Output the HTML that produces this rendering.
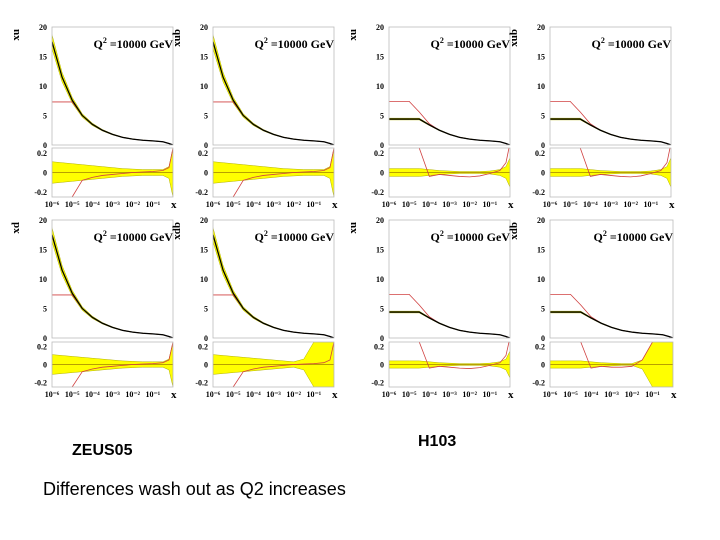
<!DOCTYPE html>
<html><head><meta charset="utf-8"><style>
body{margin:0;background:#fff;width:720px;height:540px;overflow:hidden;font-family:"Liberation Serif",serif}
svg{position:absolute;left:0;top:0}
.t{position:absolute;font-family:"Liberation Sans",sans-serif;color:#000}
</style></head><body>
<svg id="c" width="720" height="540"></svg>
<div class="t" style="left:72px;top:442px;font-size:16px;font-weight:bold">ZEUS05</div>
<div class="t" style="left:418px;top:433px;font-size:16px;font-weight:bold">H103</div>
<div class="t" style="left:43px;top:479px;font-size:18px">Differences wash out as Q2 increases</div>
<script>
// log10(x) grid
const logX=[-6,-5.5,-5,-4.5,-4,-3.5,-3,-2.5,-2,-1.5,-1,-0.5,-0.2,0];
// central values
const zeusMain=[17.5,11.5,7.6,5.0,3.5,2.5,1.8,1.3,1.0,0.8,0.7,0.55,0.25,0];
const h1Main=[4.4,4.4,4.4,4.4,3.4,2.5,1.8,1.3,1.0,0.8,0.7,0.55,0.25,0];
const redMain=[7.3,7.3,7.3,5.0,3.5,2.5,1.8,1.3,1.0,0.8,0.7,0.55,0.25,0];
const redMainH1=[7.4,7.4,7.4,5.6,3.6,2.5,1.8,1.3,1.0,0.8,0.7,0.55,0.25,0];
const zeusErr=[1.2,0.8,0.5,0.3,0.2,0.12,0.08,0.05,0.04,0.03,0.03,0.03,0.02,0];
const h1Err=[0.15,0.15,0.15,0.15,0.1,0.08,0.06,0.05,0.04,0.03,0.03,0.03,0.02,0];
// ratio band half-width
const zeusBandU=[0.11,0.1,0.09,0.08,0.07,0.06,0.05,0.04,0.035,0.03,0.03,0.03,0.06,0.25];
const zeusBandD=[0.11,0.1,0.09,0.08,0.07,0.06,0.05,0.04,0.035,0.03,0.03,0.03,0.06,0.25];
const h1BandU=[0.04,0.04,0.04,0.04,0.03,0.02,0.015,0.01,0.01,0.01,0.015,0.03,0.06,0.15];
const zeusBbBand=[0.11,0.1,0.09,0.08,0.07,0.06,0.05,0.04,0.03,0.06,0.25,0.25,0.25,0.25];
const h1BbBand=[0.04,0.04,0.04,0.04,0.03,0.02,0.015,0.01,0.01,0.05,0.25,0.25,0.25,0.25];
// ratio red curves
const zeusRed=[-0.5,-0.35,-0.25,-0.08,-0.05,-0.03,-0.02,-0.01,0,0.005,0.01,0.02,0.05,0.25];
const h1Red=[0.5,0.5,0.5,0.25,-0.04,-0.02,-0.03,-0.04,-0.045,-0.035,-0.01,0.02,0.1,0.3];
const h1RedB=[0.5,0.5,0.5,0.25,-0.04,-0.02,-0.03,-0.03,-0.02,0.05,0.25,0.5,0.5,0.5];
const mainTicks=[0,5,10,15,20];
const ratioTicks=[-0.2,0,0.2];
const xTickLabels=["10⁻⁶","10⁻⁵","10⁻⁴","10⁻³","10⁻²","10⁻¹"];
const NS="http://www.w3.org/2000/svg";
const svg=document.getElementById('c');
function el(t,a,p){const e=document.createElementNS(NS,t);for(const k in a)e.setAttribute(k,a[k]);(p||svg).appendChild(e);return e;}
const panels=[
 {x0:52,x1:173,t:27,mb:145,rt:148,rb:197,lab:"xu",main:zeusMain,err:zeusErr,red:redMain,band:zeusBandU,rred:zeusRed},
 {x0:213,x1:334,t:27,mb:145,rt:148,rb:197,lab:"xub",main:zeusMain,err:zeusErr,red:redMain,band:zeusBandD,rred:zeusRed},
 {x0:389,x1:510,t:27,mb:145,rt:148,rb:197,lab:"xu",main:h1Main,err:h1Err,red:redMainH1,band:h1BandU,rred:h1Red},
 {x0:550,x1:671,t:27,mb:145,rt:148,rb:197,lab:"xub",main:h1Main,err:h1Err,red:redMainH1,band:h1BandU,rred:h1Red},
 {x0:52,x1:173,t:220,mb:338,rt:342,rb:387,lab:"xd",main:zeusMain,err:zeusErr,red:redMain,band:zeusBandU,rred:zeusRed},
 {x0:213,x1:334,t:220,mb:338,rt:342,rb:387,lab:"xdb",main:zeusMain,err:zeusErr,red:redMain,band:zeusBbBand,rred:zeusRed},
 {x0:389,x1:510,t:220,mb:338,rt:342,rb:387,lab:"xu",main:h1Main,err:h1Err,red:redMainH1,band:h1BandU,rred:h1Red},
 {x0:550,x1:673,t:220,mb:338,rt:342,rb:387,lab:"xdb",main:h1Main,err:h1Err,red:redMainH1,band:h1BbBand,rred:h1RedB},
];
panels.forEach((p,i)=>{
 const g=el('g',{});
 
 
 const cp='cp'+i;
 const defs=el('defs',{},g);
 const c1=el('clipPath',{id:cp+'m'},defs);el('rect',{x:p.x0,y:p.t,width:p.x1-p.x0,height:p.mb-p.t},c1);
 const c2=el('clipPath',{id:cp+'r'},defs);el('rect',{x:p.x0,y:p.rt,width:p.x1-p.x0,height:p.rb-p.rt},c2);
 const X=l=>p.x0+(l+6)/6*(p.x1-p.x0);
 const Y=v=>p.mb-v/20*(p.mb-p.t);
 const rc=(p.rt+p.rb)/2, rs=(p.rb-p.rt)/2/0.25;
 const R=v=>rc-v*rs;
 // main band
 const gm=el('g',{'clip-path':'url(#'+cp+'m)'},g);
 let up=logX.map((l,k)=>X(l)+','+Y(p.main[k]+p.err[k])).join(' ');
 let dn=logX.map((l,k)=>X(l)+','+Y(p.main[k]-p.err[k])).reverse().join(' ');
 const bnd=el('polygon',{points:up+' '+dn,fill:'#ffff00',stroke:'#b0b000','stroke-width':0.5},gm);
 
 
 const rl=el('polyline',{points:logX.map((l,k)=>X(l)+','+Y(p.red[k])).join(' '),fill:'none',stroke:'#d04040','stroke-width':0.8},gm);
 
 
 const bl=el('polyline',{points:logX.map((l,k)=>X(l)+','+Y(p.main[k])).join(' '),fill:'none',stroke:'#000','stroke-width':1.3,'stroke-dasharray':i%4<2?'none':'none'},gm);
 
 
 // ratio
 const gr=el('g',{'clip-path':'url(#'+cp+'r)'},g);
 up=logX.map((l,k)=>X(l)+','+R(p.band[k])).join(' ');
 dn=logX.map((l,k)=>X(l)+','+R(-p.band[k])).reverse().join(' ');
 const rb=el('polygon',{points:up+' '+dn,fill:'#ffff00',stroke:'#b0b000','stroke-width':0.5},gr);
 
 
 el('line',{x1:p.x0,x2:p.x1,y1:R(0),y2:R(0),stroke:'#a08000','stroke-width':0.8},gr);
 const rr=el('polyline',{points:logX.map((l,k)=>X(l)+','+R(p.rred[k])).join(' '),fill:'none',stroke:'#d04040','stroke-width':0.8},gr);
 
 
 // frames
 el('rect',{x:p.x0,y:p.t,width:p.x1-p.x0,height:p.mb-p.t,fill:'none',stroke:'#bbb','stroke-width':0.8},g);
 el('rect',{x:p.x0,y:p.rt,width:p.x1-p.x0,height:p.rb-p.rt,fill:'none',stroke:'#bbb','stroke-width':0.8},g);
 mainTicks.forEach(v=>{
  const t=el('text',{x:p.x0-5,y:Y(v)+3,'font-size':8,'font-weight':'bold','text-anchor':'end'},g);t.textContent=v;
 });
 ratioTicks.forEach(v=>{
  const t=el('text',{x:p.x0-5,y:R(v)+3,'font-size':8,'font-weight':'bold','text-anchor':'end'},g);t.textContent=v;
 });
 xTickLabels.forEach((s,k)=>{
  const t=el('text',{x:X(k-6),y:p.rb+10,'font-size':8,'font-weight':'bold','text-anchor':'middle'},g);t.textContent=s;
 });
 const xl=el('text',{x:p.x1-2,y:p.rb+11,'font-size':11,'font-weight':'bold'},g);xl.textContent='x';
 const yl=el('text',{x:0,y:0,'font-size':11,'font-weight':'bold','text-anchor':'end',transform:'translate('+(p.x0-33)+','+(p.t+2)+') rotate(-90)'},g);yl.textContent=p.lab;
 const q=el('text',{x:p.x1,y:p.t+21,'font-size':12,'font-weight':'bold','text-anchor':'end'},g);
 q.innerHTML='Q<tspan dy="-5" font-size="8">2</tspan><tspan dy="5"> =10000 GeV</tspan>';
});
</script>
</body></html>
